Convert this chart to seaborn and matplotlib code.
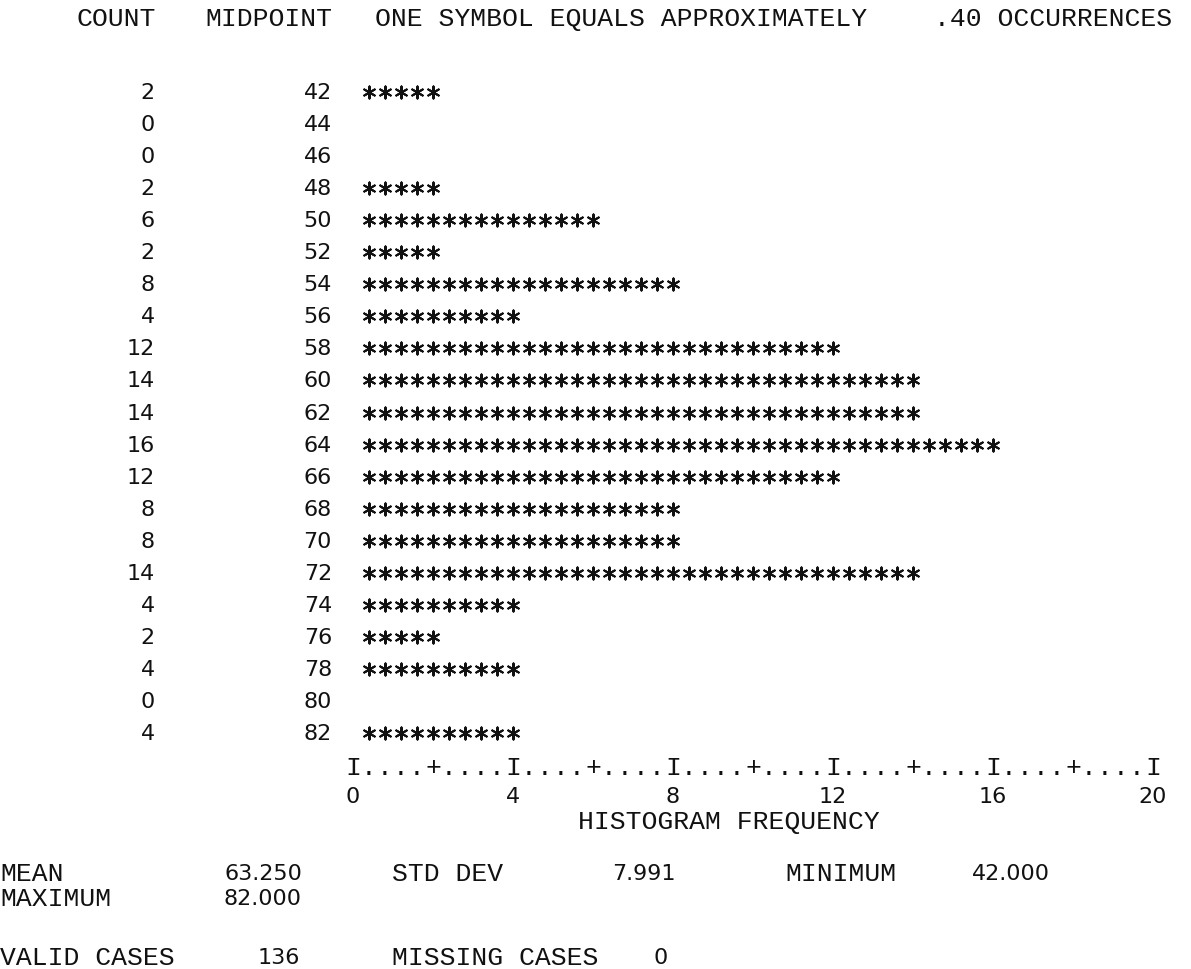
import numpy as np
import pandas as pd
import matplotlib
matplotlib.use("Agg")
import matplotlib.pyplot as plt
import seaborn as sns

# ---- data ----
midpoints = [42, 44, 46, 48, 50, 52, 54, 56, 58, 60, 62, 64, 66, 68, 70, 72, 74, 76, 78, 80, 82]
counts = [2, 0, 0, 2, 6, 2, 8, 4, 12, 14, 14, 16, 12, 8, 8, 14, 4, 2, 4, 0, 4]
symbol_value = 0.40
freq_ticks = [0, 4, 8, 12, 16, 20]
stats_line1 = [("MEAN", "63.250"), ("STD DEV", "7.991"), ("MINIMUM", "42.000")]
stats_line2 = [("MAXIMUM", "82.000")]
cases_line = [("VALID CASES", "136"), ("MISSING CASES", "0")]
header = ["COUNT", "MIDPOINT", "ONE SYMBOL EQUALS APPROXIMATELY", ".40 OCCURRENCES"]
x_title = "HISTOGRAM FREQUENCY"

# ---- layout (pixels) ----
W, H = 1191, 970
X0, PX_PER_UNIT = 353, 40.0
ROW0, STEP = 93.0, 32.05

def X(px):
    return (px - X0) / PX_PER_UNIT

def Y(py):
    return (py - ROW0) / STEP

sns.set_theme(style="white")
MONO = ["Liberation Mono", "DejaVu Sans Mono"]
SANS = ["DejaVu Sans"]
HS = 19     # typewriter letters
NS = 16     # numbers
INK = "#111111"

fig = plt.figure(figsize=(W / 100, H / 100), dpi=100)
ax = fig.add_axes([0, 0, 1, 1])
ax.set_xlim(X(0), X(W))
ax.set_ylim(Y(H), Y(0))
ax.axis("off")


def label(px, py, s, ha="left"):
    ax.text(X(px), Y(py), s, family=MONO, fontsize=HS, ha=ha, va="center", color=INK)


def number(px, y, s, ha="right"):
    ax.text(X(px), y, s, family=SANS, fontsize=NS, ha=ha, va="center", color=INK)


# stars: one symbol per 0.40 occurrences
rows = []
for k, c in enumerate(counts):
    n = int(round(c / symbol_value))
    for i in range(n):
        rows.append({"freq": symbol_value * (i + 1), "row": k})
stars = pd.DataFrame(rows)
sns.scatterplot(data=stars, x="freq", y="row", marker=(6, 2, 0), s=75,
                color=INK, linewidth=1.45, legend=False, ax=ax)

# header
label(77, 19, header[0])
label(205, 19, header[1])
label(375, 19, header[2])
label(1172, 19, header[3], ha="right")

# count and midpoint columns
for k, (m, c) in enumerate(zip(midpoints, counts)):
    number(155, k, str(c))
    number(332, k, str(m))

# frequency axis drawn as characters
n_cells = int(round(freq_ticks[-1] / symbol_value))
axis_base = Y(775)
for j in range(n_cells + 1):
    ch = "I" if j % 10 == 0 else ("+" if j % 5 == 0 else ".")
    ax.text(j * symbol_value, axis_base, ch, family=MONO, fontsize=HS,
            ha="center", va="baseline", color=INK)
for t in freq_ticks:
    ax.text(t, Y(797), str(t), family=SANS, fontsize=NS, ha="center", va="center",
            color=INK)
label(729, 822, x_title, ha="center")

# statistics
lab_x = [0, 392, 785]
val_r = [302, 676, 1050]
for (lab, val), lx, vr in zip(stats_line1, lab_x, val_r):
    label(lx, 874, lab)
    number(vr, Y(874), val)
for (lab, val), lx, vr in zip(stats_line2, lab_x, val_r):
    label(lx, 899, lab)
    number(vr, Y(899), val)
case_r = [300, 668]
for (lab, val), lx, vr in zip(cases_line, lab_x, case_r):
    label(lx, 958, lab)
    number(vr, Y(958), val)

fig.savefig("out.png", dpi=100, facecolor="white")
